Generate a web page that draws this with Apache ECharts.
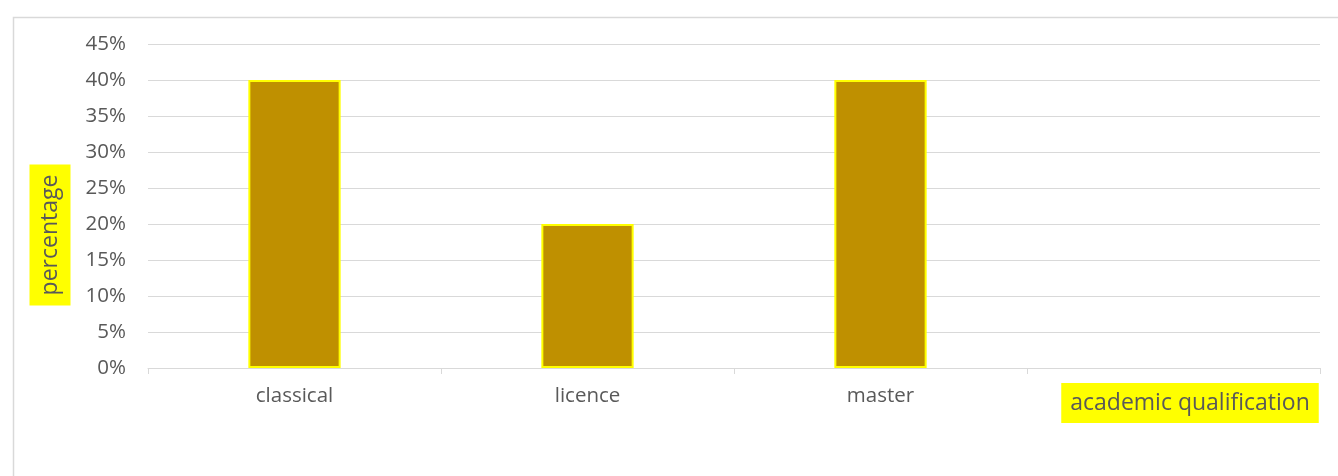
<!DOCTYPE html>
<html>
<head>
<meta charset="utf-8">
<script src="https://cdn.jsdelivr.net/npm/echarts@6/dist/echarts.min.js"></script>
<style>
html,body{margin:0;padding:0;background:#fff;}
#chart{width:1338px;height:476px;}
</style>
</head>
<body>
<div id="chart"></div>
<script>
const categories = ['classical', 'licence', 'master', ''];
const percentages = [40, 20, 40, null];
const yTicks = [0, 5, 10, 15, 20, 25, 30, 35, 40, 45];
const xTitle = 'academic qualification';
const yTitle = 'percentage';

const font = 'Open Sans';
const chart = echarts.init(document.getElementById('chart'), null, {renderer: 'canvas'});
chart.setOption({
  animation: false,
  backgroundColor: '#fff',
  grid: {left: 148, right: 18, top: 44, bottom: 108, containLabel: false},
  xAxis: {
    type: 'category',
    data: categories,
    axisLine: {lineStyle: {color: '#d9d9d9', width: 1}},
    axisTick: {show: true, length: 6, lineStyle: {color: '#d9d9d9'}},
    axisLabel: {color: '#595959', fontFamily: font, fontSize: 20.5, margin: 18}
  },
  yAxis: {
    type: 'value',
    min: yTicks[0],
    max: yTicks[yTicks.length - 1],
    interval: 5,
    axisLine: {show: false},
    axisTick: {show: false},
    axisLabel: {color: '#595959', fontFamily: font, fontSize: 20.5, margin: 22, formatter: v => v + '%'},
    splitLine: {lineStyle: {color: '#d9d9d9', width: 1}}
  },
  series: [{
    type: 'bar',
    data: percentages,
    barWidth: '31.5%',
    itemStyle: {color: '#BF9000', borderColor: '#FFFF00', borderWidth: 2}
  }],
  graphic: [
    {type: 'rect', left: 11, top: 15, shape: {width: 1340, height: 470}, style: {fill: 'none', stroke: '#d9d9d9', lineWidth: 1.5}, z: -1},
    {type: 'text', x: 50, y: 235, rotation: Math.PI / 2,
      style: {text: yTitle, fill: '#595959', font: '23px "' + font + '"', lineHeight: 27, align: 'center', verticalAlign: 'middle',
        backgroundColor: '#FFFF00', padding: [7, 10, 7, 10]}},
    {type: 'text', x: 1190, y: 403,
      style: {text: xTitle, fill: '#595959', font: '23px "' + font + '"', lineHeight: 26, align: 'center', verticalAlign: 'middle',
        backgroundColor: '#FFFF00', padding: [7, 9, 7, 9]}}
  ]
});
</script>
</body>
</html>
